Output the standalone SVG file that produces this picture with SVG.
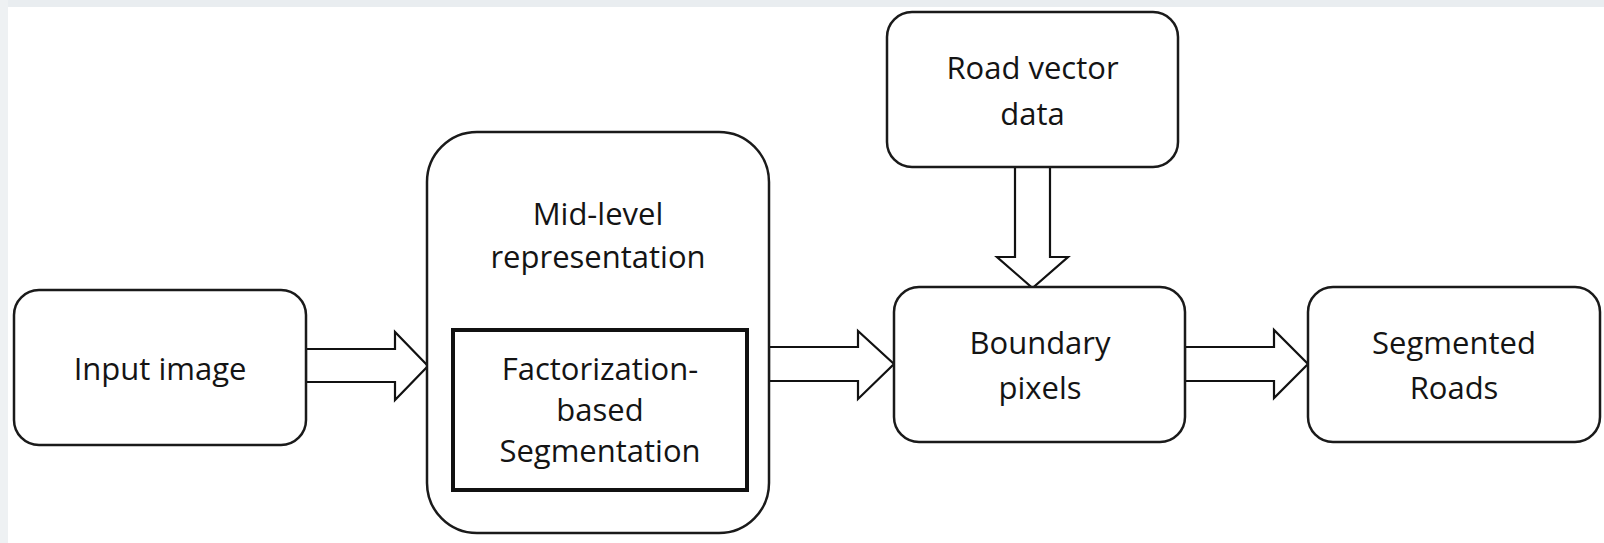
<svg xmlns="http://www.w3.org/2000/svg" width="1604" height="543" viewBox="0 0 1604 543">
<style>
.box{fill:#fff;stroke:#1a1a1a;stroke-width:2.5}
.inner{fill:#fff;stroke:#111;stroke-width:4}
.arr{fill:#fff;stroke:#111;stroke-width:2.2;stroke-linejoin:miter}
.t{font-family:"Open Sans","Noto Sans","Liberation Sans",sans-serif;font-size:31px;fill:#141414;text-anchor:middle}
</style>
<rect x="0" y="0" width="1604" height="543" fill="#fff"/>
<rect x="0" y="0" width="1604" height="7" fill="#e9edf0"/>
<rect x="0" y="0" width="8" height="543" fill="#eef1f3"/>
<g id="connectors">
<polygon class="arr" points="306,349 395,349 395,332 428,366 395,400 395,382 306,382"/>
<polygon class="arr" points="769,347 858,347 858,331 894,364 858,399 858,381 769,381"/>
<polygon class="arr" points="1185,347 1274,347 1274,330 1308,364 1274,398 1274,381 1185,381"/>
<polygon class="arr" points="1015,167 1015,257 997,257 1032.5,288 1068,257 1050,257 1050,167"/>
</g>
<g id="input-image">
<rect class="box" x="14" y="290" width="292" height="155" rx="25"/>
<text class="t" x="160" y="380">Input image</text>
</g>
<g id="mid-level">
<rect class="box" x="427" y="132" width="342" height="401" rx="50"/>
<text class="t" x="598" y="225">Mid-level</text>
<text class="t" x="598" y="268">representation</text>
</g>
<g id="factorization">
<rect class="inner" x="453" y="330" width="294" height="160"/>
<text class="t" x="600" y="380">Factorization-</text>
<text class="t" x="600" y="421">based</text>
<text class="t" x="600" y="462">Segmentation</text>
</g>
<g id="road-vector">
<rect class="box" x="887" y="12" width="291" height="155" rx="25"/>
<text class="t" x="1032.5" y="79">Road vector</text>
<text class="t" x="1032.5" y="125">data</text>
</g>
<g id="boundary">
<rect class="box" x="894" y="287" width="291" height="155" rx="25"/>
<text class="t" x="1040" y="354">Boundary</text>
<text class="t" x="1040" y="399">pixels</text>
</g>
<g id="segmented">
<rect class="box" x="1308" y="287" width="292" height="155" rx="25"/>
<text class="t" x="1454" y="354">Segmented</text>
<text class="t" x="1454" y="399">Roads</text>
</g>
</svg>
